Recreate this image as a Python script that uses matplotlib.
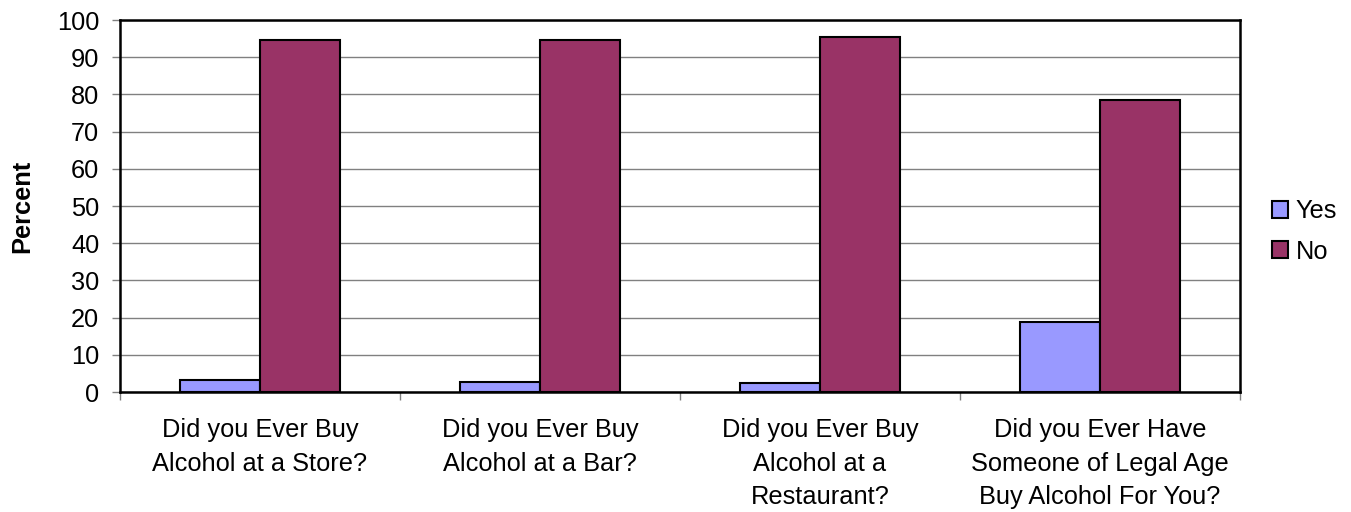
import matplotlib.pyplot as plt
import numpy as np

plt.rcParams['font.family'] = ['Liberation Sans', 'DejaVu Sans']

categorias = ['Did you Ever Buy\nAlcohol at a Store?',
              'Did you Ever Buy\nAlcohol at a Bar?',
              'Did you Ever Buy\nAlcohol at a\nRestaurant?',
              'Did you Ever Have\nSomeone of Legal Age\nBuy Alcohol For You?']
valoresSim = [3.1, 2.6, 2.5, 18.7]
valoresNao = [94.6, 94.7, 95.3, 78.4]

x = np.arange(len(categorias))
width = 1 / 3.5
fs = 18.3

fig = plt.figure(figsize=(13.51, 5.12), dpi=100)
ax = fig.add_axes([120 / 1351, 1 - 392 / 512, 1120 / 1351, 372 / 512])

ax.bar(x - width / 2, valoresSim, width, color='#9999ff', edgecolor='black', linewidth=1.5, label='Yes', zorder=3)
ax.bar(x + width / 2, valoresNao, width, color='#993366', edgecolor='black', linewidth=1.5, label='No', zorder=3)

ax.set_xlim(-0.5, len(categorias) - 0.5)
ax.set_ylim(0, 100)
ax.set_yticks(range(0, 101, 10))
ax.yaxis.grid(True, color='#808080', linewidth=1, zorder=0)
ax.set_axisbelow(True)

ax.set_xticks(x, categorias, fontsize=fs, linespacing=1.5)
ax.set_xticks(np.arange(-0.5, len(categorias)), minor=True)
ax.tick_params(axis='x', which='major', length=0, pad=19)
ax.tick_params(axis='x', which='minor', length=6, width=1, color='#808080')
ax.tick_params(axis='y', labelsize=fs, length=6, width=1, color='#808080', pad=9)

for s in ax.spines.values():
    s.set_linewidth(1.8)
    s.set_color('black')

ax.set_ylabel('Percent', fontsize=fs, fontweight='bold', labelpad=16)

ax.legend(loc='center left', bbox_to_anchor=(1 + 32 / 1120, 0.432), frameon=False, fontsize=fs,
          borderpad=0, borderaxespad=0,
          handlelength=0.64, handleheight=0.64, handletextpad=0.3, labelspacing=0.65)

fig.savefig('out.png', dpi=100)
